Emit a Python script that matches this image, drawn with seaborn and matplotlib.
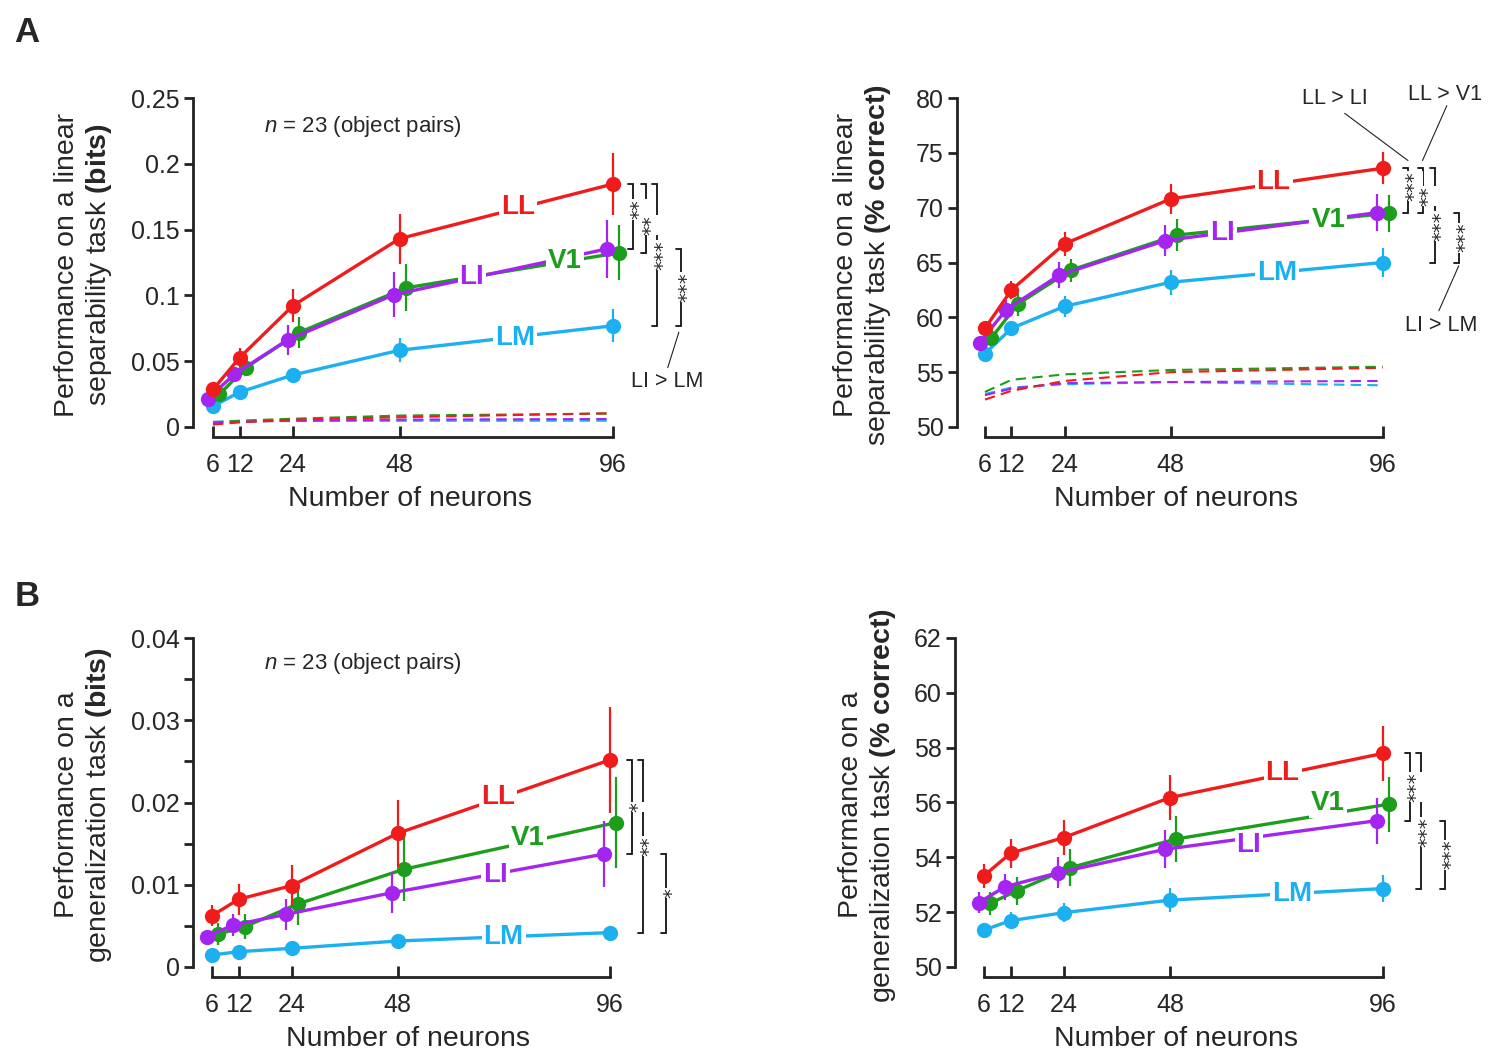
import numpy as np
import pandas as pd
import matplotlib
matplotlib.use("Agg")
import matplotlib.pyplot as plt
import matplotlib.transforms as mtransforms
import seaborn as sns

# ---------------- data ----------------
neurons = [6, 12, 24, 48, 96]
areas = ["LM", "V1", "LI", "LL"]          # drawing order
area_colors = ["#1cb0f0", "#1c9e1c", "#a424f0", "#f01c1c"]
x_shift = [0.0, 1.4, -1.2, 0.0]           # small horizontal jitter of V1 / LI

# Panel A, left: linear separability (bits)
A_bits_LL = [0.0285, 0.0527, 0.0922, 0.1431, 0.1846]
A_bits_V1 = [0.0247, 0.0451, 0.0718, 0.1057, 0.1324]
A_bits_LI = [0.0214, 0.0400, 0.0662, 0.1006, 0.1354]
A_bits_LM = [0.0158, 0.0265, 0.0395, 0.0583, 0.0769]
A_bits_LL_err = [0.005, 0.007, 0.0123, 0.019, 0.0235]
A_bits_V1_err = [0.004, 0.006, 0.0117, 0.0178, 0.0208]
A_bits_LI_err = [0.004, 0.005, 0.0115, 0.017, 0.022]
A_bits_LM_err = [0.003, 0.004, 0.005, 0.009, 0.0125]
A_bits_LL_null = [0.0018, 0.0035, 0.0056, 0.0074, 0.0105]
A_bits_V1_null = [0.0036, 0.0048, 0.0063, 0.0087, 0.0102]
A_bits_LI_null = [0.0030, 0.0040, 0.0048, 0.0056, 0.0061]
A_bits_LM_null = [0.0040, 0.0043, 0.0045, 0.0047, 0.0048]

# Panel A, right: linear separability (% correct)
A_pc_LL = [59.0, 62.5, 66.7, 70.8, 73.6]
A_pc_V1 = [58.1, 61.2, 64.3, 67.5, 69.5]
A_pc_LI = [57.7, 60.7, 63.85, 67.0, 69.55]
A_pc_LM = [56.7, 59.0, 61.0, 63.2, 65.0]
A_pc_LL_err = [0.64, 0.83, 1.1, 1.36, 1.47]
A_pc_V1_err = [0.6, 1.06, 1.06, 1.47, 1.7]
A_pc_LI_err = [0.6, 0.9, 1.2, 1.42, 1.7]
A_pc_LM_err = [0.5, 0.7, 0.95, 1.15, 1.36]
A_pc_LL_null = [52.5, 53.3, 54.2, 55.0, 55.4]
A_pc_V1_null = [53.2, 54.3, 54.8, 55.2, 55.5]
A_pc_LI_null = [52.9, 53.5, 54.0, 54.1, 54.2]
A_pc_LM_null = [53.0, 53.6, 53.9, 54.1, 53.8]

# Panel B, left: generalization (bits)
B_bits_LL = [0.00624, 0.00823, 0.00989, 0.01625, 0.02517]
B_bits_V1 = [0.0040, 0.0049, 0.00766, 0.01188, 0.01755]
B_bits_LI = [0.00369, 0.0051, 0.0064, 0.00904, 0.01374]
B_bits_LM = [0.00146, 0.00186, 0.00227, 0.00316, 0.00418]
B_bits_LL_err = [0.0013, 0.0019, 0.0025, 0.0041, 0.0065]
B_bits_V1_err = [0.0013, 0.0015, 0.0026, 0.0039, 0.0055]
B_bits_LI_err = [0.0008, 0.0013, 0.0019, 0.0025, 0.0040]
B_bits_LM_err = [0.0003, 0.0003, 0.0004, 0.0005, 0.0008]

# Panel B, right: generalization (% correct)
B_pc_LL = [53.33, 54.15, 54.72, 56.18, 57.79]
B_pc_V1 = [52.32, 52.78, 53.62, 54.67, 55.94]
B_pc_LI = [52.35, 52.93, 53.44, 54.29, 55.34]
B_pc_LM = [51.35, 51.69, 51.98, 52.44, 52.86]
B_pc_LL_err = [0.44, 0.53, 0.63, 0.82, 1.0]
B_pc_V1_err = [0.43, 0.52, 0.68, 0.83, 1.0]
B_pc_LI_err = [0.38, 0.47, 0.57, 0.69, 0.84]
B_pc_LM_err = [0.2, 0.3, 0.35, 0.43, 0.5]

A_bits_yticks = [0, 0.05, 0.1, 0.15, 0.2, 0.25]
A_bits_yticklabels = ["0", "0.05", "0.1", "0.15", "0.2", "0.25"]
A_pc_yticks = [50, 55, 60, 65, 70, 75, 80]
B_bits_yticks = [0, 0.01, 0.02, 0.03, 0.04]
B_bits_yticklabels = ["0", "0.01", "0.02", "0.03", "0.04"]
B_bits_minor = [0.005, 0.015, 0.025, 0.035]
B_pc_yticks = [50, 52, 54, 56, 58, 60, 62]

# ---------------- style ----------------
sns.set_theme(style="ticks")
plt.rcParams["font.family"] = ["Liberation Sans", "DejaVu Sans"]
plt.rcParams["mathtext.fontset"] = "custom"
plt.rcParams["mathtext.rm"] = "Liberation Sans"
plt.rcParams["mathtext.it"] = "Liberation Sans:italic"
plt.rcParams["mathtext.bf"] = "Liberation Sans:bold"

fig = plt.figure(figsize=(15, 10.62), dpi=100)
W, H = 1500.0, 1062.0


def px_axes(left, top, right, bottom):
    return fig.add_axes([left / W, 1 - bottom / H, (right - left) / W, (bottom - top) / H])


def style_axes(ax, xlim, ylim, yticks, yticklabels=None):
    ax.set_xlim(*xlim)
    ax.set_ylim(*ylim)
    for s in ["top", "right"]:
        ax.spines[s].set_visible(False)
    for s in ["left", "bottom"]:
        ax.spines[s].set_linewidth(2.0)
        ax.spines[s].set_color("#222222")
    ax.spines["bottom"].set_position(("outward", 7.5))
    ax.spines["bottom"].set_bounds(6, 96)
    ax.set_xticks(neurons)
    ax.set_xticklabels([str(n) for n in neurons])
    ax.set_yticks(yticks)
    if yticklabels is not None:
        ax.set_yticklabels(yticklabels)
    ax.tick_params(axis="x", direction="in", length=8, width=2.0, pad=11,
                   labelsize=18, color="#222222")
    ax.tick_params(axis="y", which="both", direction="out", length=6.5, width=2.0,
                   pad=3, labelsize=18, color="#222222")
    ax.set_xlabel("Number of neurons", fontsize=20.5, labelpad=7)
    ax.set_ylabel("")
    ax.set_facecolor("none")


def draw_series(ax, means, errs, nulls=None):
    if nulls is not None:
        for a, col, nv in zip(areas, area_colors, nulls):
            df = pd.DataFrame({"n": neurons, "v": nv})
            sns.lineplot(data=df, x="n", y="v", ax=ax, color=col, lw=1.5,
                         linestyle=(0, (5, 3)), zorder=1)
    for i, (a, col, mv, ev) in enumerate(zip(areas, area_colors, means, errs)):
        xs = [n + x_shift[i] for n in neurons]
        ax.vlines(xs, np.array(mv) - np.array(ev), np.array(mv) + np.array(ev),
                  color=col, lw=1.6, zorder=2 + i, clip_on=False)
        df = pd.DataFrame({"n": xs, "v": mv})
        sns.lineplot(data=df, x="n", y="v", ax=ax, color=col, lw=2.4, marker="o",
                     markersize=11, markeredgewidth=0, zorder=2.5 + i,
                     clip_on=False)


def series_labels(ax, pos):
    for (txt, x, y), col in zip(pos, [area_colors[areas.index(p[0])] for p in pos]):
        ax.text(x, y, txt, color=col, fontsize=20, fontweight="bold", ha="center",
                va="center", zorder=20,
                bbox=dict(fc="white", ec="none", pad=1.5))


STAR_FS = 14


def bracket(ax, x, y1, y2, label, tick=1.1, dy=0.0):
    ax.plot([x - tick, x, x, x - tick], [y1, y1, y2, y2], color="#111111", lw=1.3,
            clip_on=False, zorder=15, solid_joinstyle="miter")
    tr = mtransforms.offset_copy(ax.transData, fig=fig, x=0.30 * STAR_FS,
                                 y=dy, units="points")
    ax.text(x, (y1 + y2) / 2, label, rotation=90, ha="center", va="center",
            fontsize=STAR_FS, family="DejaVu Sans", zorder=16, clip_on=False,
            transform=tr, bbox=dict(fc="white", ec="none", pad=0.2))


def leader(ax, x1, y1, x2, y2):
    ax.plot([x1, x2], [y1, y2], color="#222222", lw=0.8, clip_on=False, zorder=15)


# ---------------- Panel A left ----------------
ax1 = px_axes(193, 98, 626, 427)
draw_series(ax1, [A_bits_LM, A_bits_V1, A_bits_LI, A_bits_LL],
            [A_bits_LM_err, A_bits_V1_err, A_bits_LI_err, A_bits_LL_err],
            [A_bits_LM_null, A_bits_V1_null, A_bits_LI_null, A_bits_LL_null])
style_axes(ax1, (1.5, 99), (0, 0.25), A_bits_yticks, A_bits_yticklabels)
series_labels(ax1, [("LL", 74.7, 0.167), ("V1", 85.2, 0.126),
                    ("LI", 64.3, 0.114), ("LM", 74.1, 0.068)])
ax1.text(0.393, 0.912, "$n$ = 23 (object pairs)", transform=ax1.transAxes,
         fontsize=16, ha="center", va="center")
bracket(ax1, 100.5, A_bits_LL[4], A_bits_LI[4], "**", dy=5)
bracket(ax1, 103.4, A_bits_LL[4], A_bits_V1[4], "**", dy=-5)
bracket(ax1, 105.9, A_bits_LL[4], A_bits_LM[4], "***")
bracket(ax1, 111.3, A_bits_LI[4], A_bits_LM[4], "***")
leader(ax1, 110.9, 0.072, 108.4, 0.0451)
ax1.text(108.2, 0.0349, "LI > LM", fontsize=15.5, ha="center", va="center")

# ---------------- Panel A right ----------------
ax2 = px_axes(957, 98, 1396, 427)
draw_series(ax2, [A_pc_LM, A_pc_V1, A_pc_LI, A_pc_LL],
            [A_pc_LM_err, A_pc_V1_err, A_pc_LI_err, A_pc_LL_err],
            [A_pc_LM_null, A_pc_V1_null, A_pc_LI_null, A_pc_LL_null])
style_axes(ax2, (-0.33, 99), (50, 80), A_pc_yticks)
series_labels(ax2, [("LL", 71.3, 72.3), ("V1", 83.7, 68.9),
                    ("LI", 59.8, 67.7), ("LM", 72.1, 64.0)])
bracket(ax2, 101.7, A_pc_LL[4], A_pc_LI[4], "***", dy=3)
bracket(ax2, 105.0, A_pc_LL[4], A_pc_V1[4], "**", dy=-4)
bracket(ax2, 107.9, A_pc_LL[4], A_pc_LM[4], "***", dy=-8)
bracket(ax2, 113.2, A_pc_LI[4], A_pc_LM[4], "***")
ax2.text(85.1, 80.0, "LL > LI", fontsize=15.5, ha="center", va="center")
leader(ax2, 87.4, 78.6, 101.7, 74.3)
ax2.text(110.0, 80.3, "LL > V1", fontsize=15.5, ha="center", va="center")
leader(ax2, 110.5, 79.3, 105.0, 74.3)
ax2.text(109.3, 59.3, "LI > LM", fontsize=15.5, ha="center", va="center")
leader(ax2, 108.7, 60.6, 113.2, 64.7)

# ---------------- Panel B left ----------------
ax3 = px_axes(193, 638, 623, 967)
draw_series(ax3, [B_bits_LM, B_bits_V1, B_bits_LI, B_bits_LL],
            [B_bits_LM_err, B_bits_V1_err, B_bits_LI_err, B_bits_LL_err])
style_axes(ax3, (1.7, 99), (0, 0.04), B_bits_yticks, B_bits_yticklabels)
ax3.set_yticks(B_bits_minor, minor=True)
ax3.tick_params(axis="y", which="minor", length=6.5, width=2.0, color="#222222")
series_labels(ax3, [("LL", 70.7, 0.0207), ("V1", 77.5, 0.0157),
                    ("LI", 70.2, 0.0112), ("LM", 72.0, 0.00365)])
ax3.text(0.395, 0.921, "$n$ = 23 (object pairs)", transform=ax3.transAxes,
         fontsize=16, ha="center", va="center")
bracket(ax3, 101.1, B_bits_LL[4], B_bits_LI[4], "*")
bracket(ax3, 103.6, B_bits_LL[4], B_bits_LM[4], "**")
bracket(ax3, 108.8, B_bits_LI[4], B_bits_LM[4], "*")

# ---------------- Panel B right ----------------
ax4 = px_axes(955, 638, 1396, 967)
draw_series(ax4, [B_pc_LM, B_pc_V1, B_pc_LI, B_pc_LL],
            [B_pc_LM_err, B_pc_V1_err, B_pc_LI_err, B_pc_LL_err])
style_axes(ax4, (-0.54, 99), (50, 62), B_pc_yticks)
series_labels(ax4, [("LL", 73.4, 57.06), ("V1", 83.7, 55.97),
                    ("LI", 65.8, 54.45), ("LM", 75.6, 52.65)])
bracket(ax4, 102.1, B_pc_LL[4], B_pc_LI[4], "***")
bracket(ax4, 104.6, B_pc_LL[4], B_pc_LM[4], "***", dy=-8)
bracket(ax4, 110.1, B_pc_LI[4], B_pc_LM[4], "***")

# ---------------- y labels & panel letters ----------------
ylab_kw = dict(rotation=90, ha="center", va="center", fontsize=20.5,
               multialignment="center")
fig.text(84 / W, 1 - 265 / H, "Performance on a linear\nseparability task $\\mathbf{(bits)}$", **ylab_kw)
fig.text(863 / W, 1 - 265 / H, "Performance on a linear\nseparability task $\\mathbf{(\\%\\ correct)}$", **ylab_kw)
fig.text(84 / W, 1 - 805 / H, "Performance on a\ngeneralization task $\\mathbf{(bits)}$", **ylab_kw)
fig.text(868 / W, 1 - 805 / H, "Performance on a\ngeneralization task $\\mathbf{(\\%\\ correct)}$", **ylab_kw)

fig.text(27 / W, 1 - 33 / H, "A", fontsize=25, fontweight="bold", ha="center", va="center")
fig.text(27 / W, 1 - 597 / H, "B", fontsize=25, fontweight="bold", ha="center", va="center")

fig.savefig("out.png", dpi=100, facecolor="white")
